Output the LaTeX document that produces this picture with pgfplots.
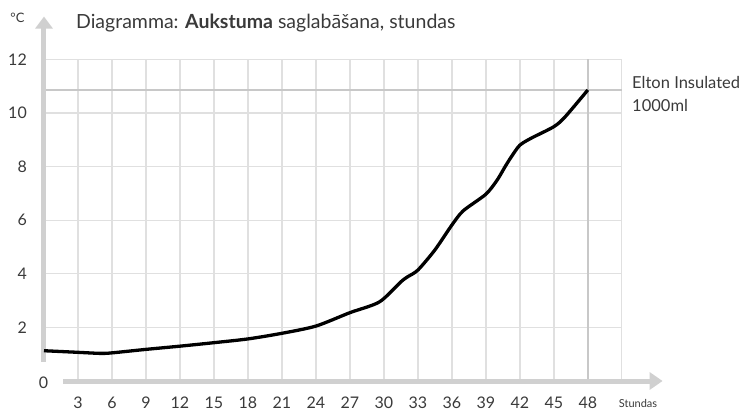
\documentclass[border=0pt]{standalone}
\usepackage{pgfplots}
\pgfplotsset{compat=1.18}
\usepackage{fontspec}
\setmainfont{Lato}
\usetikzlibrary{arrows.meta}
\definecolor{txt}{HTML}{3A3A3A}
\definecolor{gridc}{HTML}{E0E0E0}
\definecolor{axc}{HTML}{D0D0D0}
\definecolor{refc}{HTML}{C8C8C8}
\begin{document}
\begin{tikzpicture}
\begin{axis}[
  x=11.33pt, y=26.8pt,
  xmin=0, xmax=51, ymin=0, ymax=12,
  clip=false,
  axis line style={draw=none},
  tick style={draw=none},
  tick pos=left,
  xtick={3,6,...,51},
  xticklabels={3,6,9,12,15,18,21,24,27,30,33,36,39,42,45,48,{}},
  ytick={2,4,...,12},
  grid=major,
  major grid style={color=gridc, line width=1.3pt},
  /pgf/number format/assume math mode=true,
  xticklabel style={anchor=base, yshift=-27pt, font=\fontsize{16}{19}\selectfont, text=txt},
  yticklabel style={anchor=east, inner sep=0pt, xshift=-17pt, font=\fontsize{16}{19}\selectfont, text=txt},
]
\coordinate (O) at (axis cs:0,0);
% reference lines
\addplot[refc, line width=2.6pt] coordinates {(0,10.86) (51,10.86)};
\addplot[refc, line width=2.6pt] coordinates {(48,0) (48,12)};
% axes with arrows
\addplot[axc, line width=5pt, -{Triangle[length=13pt,width=17pt]}] coordinates {(1.68,0) (54.6,0)};
\addplot[axc, line width=5pt, -{Triangle[length=12pt,width=17pt]}] coordinates {(0,0.72) (0,13.6)};
% curve
\addplot[black, line width=3.3pt, smooth, tension=0.45] coordinates {
  (0,1.13) (3,1.07) (5,1.03) (6,1.05) (9,1.18) (12,1.30) (15,1.43) (18,1.57)
  (21,1.78) (24,2.05) (27,2.55) (29.6,2.95) (31.5,3.70) (32.1,3.89) (33,4.14)
  (34.5,4.89) (36,5.82) (37,6.35) (39,6.97) (40,7.50) (40.7,8.0) (41.3,8.40)
  (42,8.80) (43,9.06) (45,9.49) (46,9.86) (48,10.86)};
\node[anchor=base west, inner sep=0pt, text=txt, font=\fontsize{19.5}{22}\selectfont] at (axis cs:2.82,13.15) {Diagramma: \textbf{Aukstuma} saglabāšana, stundas};
\node[anchor=base, inner sep=0pt, text=txt, font=\fontsize{13}{15}\selectfont] at (axis cs:-2.34,13.36) {°C};
\node[anchor=base, inner sep=0pt, text=txt, font=\fontsize{11}{13}\selectfont] at (axis cs:52.43,-1.0) {Stundas};
\node[anchor=base west, inner sep=0pt, text=txt, font=\fontsize{16.5}{19}\selectfont] at (axis cs:51.9,10.93) {Elton Insulated};
\node[anchor=base west, inner sep=0pt, text=txt, font=\fontsize{16.5}{19}\selectfont] at (axis cs:51.9,10.07) {1000ml};
\node[anchor=center, inner sep=0pt, text=txt, font=\fontsize{16}{19}\selectfont] at (axis cs:-0.05,-0.05) {0};
\end{axis}
\pgfresetboundingbox
\useasboundingbox ([shift={(-44pt,-29pt)}]O) rectangle ([shift={(699pt,381pt)}]O);
\end{tikzpicture}
\end{document}
